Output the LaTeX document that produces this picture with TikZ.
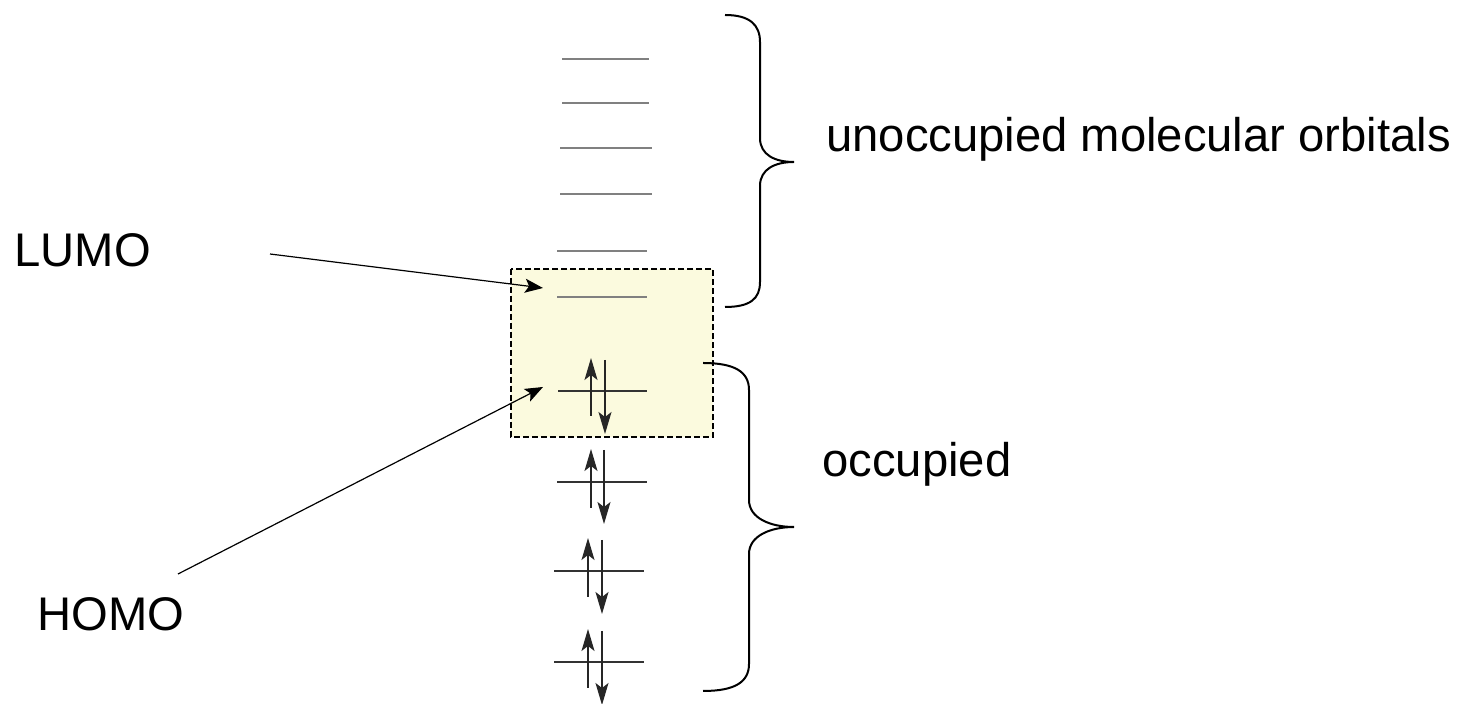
\documentclass[tikz,border=0pt]{standalone}
\usepackage{fontspec}
\setmainfont{Liberation Sans}
\usetikzlibrary{arrows.meta}
\definecolor{boxfill}{RGB}{251,250,222}
\tikzset{
  lbl/.style={anchor=base west, inner sep=0pt, font=\fontsize{23.6}{28}\selectfont},
  emptylevel/.style={draw=black!50, line width=0.8pt},
  fulllevel/.style={draw=black!80, line width=0.6pt},
  spin/.style={draw=black!85, line width=0.6pt, -{Stealth[length=11pt,width=6.5pt,inset=2.5pt]}},
  pointer/.style={draw=black, line width=0.6pt, -{Stealth[length=9pt,width=7pt,inset=2pt]}},
  brace/.style={draw=black, line width=1pt},
  hlbox/.style={draw=black, fill=boxfill, line width=0.8pt, dash pattern=on 3pt off 1.5pt}
}
\begin{document}
\begin{tikzpicture}[x=0.5pt,y=-0.5pt]
\useasboundingbox (0,0) rectangle (1468,704);
% highlight box
\draw[hlbox] (511,269) rectangle (713,437);
% unoccupied levels
\draw[emptylevel] (562,59) -- (649,59);
\draw[emptylevel] (562,103) -- (649,103);
\draw[emptylevel] (560,148) -- (652,148);
\draw[emptylevel] (560,194) -- (652,194);
\draw[emptylevel] (557,251) -- (647,251);
\draw[emptylevel] (557,297) -- (647,297);
% occupied levels
\draw[fulllevel] (558,391) -- (647,391);
\draw[spin] (591,416) -- (591,358);
\draw[spin] (605,360) -- (605,434);
\draw[fulllevel] (557,482) -- (647,482);
\draw[spin] (591,508) -- (591,449);
\draw[spin] (604,450) -- (604,524);
\draw[fulllevel] (554,571) -- (644,571);
\draw[spin] (588,597) -- (588,538);
\draw[spin] (602,540) -- (602,614);
\draw[fulllevel] (554,662) -- (644,662);
\draw[spin] (588,688) -- (588,629);
\draw[spin] (602,631) -- (602,705);
% braces
\draw[brace] (725,15) .. controls (750,15) and (760,25) .. (760,42) -- (760,138)
  .. controls (760,155) and (775,162) .. (794,162)
  .. controls (775,162) and (760,169) .. (760,186) -- (760,282)
  .. controls (760,299) and (750,307) .. (725,307);
\draw[brace] (703,363) .. controls (735,363) and (749,372) .. (749,390) -- (749,500)
  .. controls (749,518) and (770,527) .. (794,527)
  .. controls (770,527) and (749,536) .. (749,554) -- (749,664)
  .. controls (749,682) and (735,691) .. (703,691);
% labels
\node[lbl] (lumo) at (14,267) {LUMO};
\node[lbl] (homo) at (37,631) {HOMO};
\node[lbl] (unocc) at (826,152) {unoccupied molecular orbitals};
\node[lbl] (occ) at (822,477) {occupied};
% pointers
\coordinate (lumostart) at (270,254);
\coordinate (lumotip) at (543,288);
\coordinate (homostart) at (178,574);
\coordinate (homotip) at (543,387);
\draw[pointer] (lumostart) -- (lumotip);
\draw[pointer] (homostart) -- (homotip);
\end{tikzpicture}
\end{document}
